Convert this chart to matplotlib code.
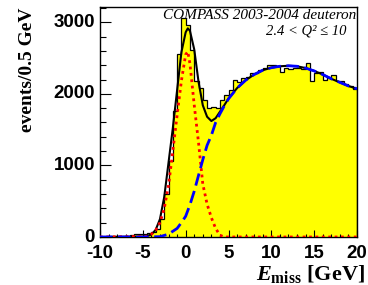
import numpy as np
import matplotlib
matplotlib.use("Agg")
import matplotlib.pyplot as plt
from matplotlib.ticker import MultipleLocator

plt.rcParams['mathtext.fontset'] = 'custom'
plt.rcParams['mathtext.it'] = 'Liberation Serif:italic:bold'
plt.rcParams['mathtext.rm'] = 'Liberation Serif:bold'
plt.rcParams['mathtext.bf'] = 'Liberation Serif:bold'

# histogram: events per 0.5 GeV bin, E_miss from -10 to 20 GeV
bin_low = -10.0
bin_width = 0.5
counts = [5, 5, 8, 12, 15, 18, 20, 25, 35, 38,
          40, 55, 75, 110, 250, 600, 1060, 1760, 2550, 3060,
          2960, 2610, 2180, 2080, 1920, 1800, 1810, 1800, 1920, 1990,
          2060, 2190, 2170, 2220, 2240, 2290, 2290, 2330, 2360, 2400,
          2400, 2390, 2310, 2360, 2350, 2360, 2360, 2350, 2430, 2180,
          2290, 2300, 2200, 2230, 2260, 2180, 2180, 2140, 2110, 2070]

# total fit (black solid)
total_e = [-10, -5, -4.5, -4, -3.5, -3, -2.5, -2, -1.5, -1, -0.5, 0, 0.25, 0.5, 1,
           1.5, 2, 2.5, 3, 3.5, 4, 4.5, 5, 6, 7, 8, 9, 10, 11, 12, 13, 14, 15,
           16, 17, 18, 19, 20]
total_v = [0, 5, 15, 35, 100, 250, 560, 1040, 1520, 2050, 2580, 2860, 2915, 2880, 2620,
           2170, 1840, 1680, 1620, 1660, 1750, 1840, 1935, 2080, 2190, 2270, 2330, 2365,
           2385, 2392, 2385, 2360, 2320, 2270, 2210, 2160, 2110, 2070]

# signal peak (red dotted)
peak_e = [-10, -4.5, -4, -3.5, -3, -2.5, -2, -1.5, -1, -0.5, 0, 0.25, 0.5, 1,
          1.5, 2, 2.5, 3, 3.5, 4, 4.5, 20]
peak_v = [0, 10, 40, 95, 200, 400, 720, 1200, 1700, 2180, 2550, 2590, 2420, 1843,
          1320, 740, 460, 270, 120, 25, 0, 0]

# background (blue dashed)
bkg_e = [-10, -5, -4, -3, -2, -1, -0.5, 0, 0.5, 1, 1.5, 2, 2.5, 3, 3.5, 4, 4.5, 5,
         6, 7, 8, 9, 10, 11, 12, 13, 14, 15, 16, 17, 18, 19, 20]
bkg_v = [0, 0, 2, 5, 40, 120, 200, 290, 450, 640, 860, 1080, 1280, 1420, 1600, 1720,
         1830, 1930, 2080, 2190, 2270, 2330, 2365, 2385, 2392, 2385, 2360, 2320, 2270,
         2210, 2160, 2110, 2070]

x_ticks = [-10, -5, 0, 5, 10, 15, 20]
y_ticks = [0, 1000, 2000, 3000]

fig = plt.figure(figsize=(3.68, 2.85), dpi=100)
ax = fig.add_axes([100/368, 1-237/285, 257/368, 230/285])

edges = bin_low + bin_width * np.arange(len(counts) + 1)
ax.stairs(counts, edges, fill=True, color='#ffff00', zorder=1)
ax.stairs(counts, edges, color='black', linewidth=0.9, zorder=2)

ax.plot(total_e, total_v, color='black', linewidth=1.5, zorder=3)
ax.plot(peak_e, peak_v, color='#ff0000', linewidth=2.0, linestyle=(0, (1, 1.3)), zorder=4)
ax.plot(bkg_e, bkg_v, color='#0000ff', linewidth=2.0, linestyle=(0, (4.5, 2)), zorder=5)

ax.set_xlim(-10, 20)
ax.set_ylim(0, 3213)
ax.set_xticks(x_ticks)
ax.set_xticklabels([str(t) for t in x_ticks])
ax.set_yticks(y_ticks)
ax.set_yticklabels([str(t) for t in y_ticks])
ax.xaxis.set_minor_locator(MultipleLocator(1))
ax.yaxis.set_minor_locator(MultipleLocator(200))

ax.tick_params(which='both', direction='in', top=False, right=False, width=0.8)
ax.tick_params(axis='y', which='major', length=8, pad=3.6)
ax.tick_params(axis='y', which='minor', length=4.3)
ax.tick_params(axis='x', which='major', length=5, pad=6.0)
ax.tick_params(axis='x', which='minor', length=2.5)
for lab in ax.get_xticklabels() + ax.get_yticklabels():
    lab.set_fontfamily('Liberation Sans')
    lab.set_fontweight('bold')
    lab.set_fontsize(13.5)
for lab in ax.get_yticklabels():
    lab.set_verticalalignment('center')
for sp in ax.spines.values():
    sp.set_linewidth(1.0)

ax.set_ylabel('events/0.5 GeV', loc='top', fontfamily='Liberation Serif',
              fontweight='bold', fontsize=14)
ax.yaxis.set_label_coords(-0.25, 1.0)
ax.set_xlabel(r'$E_{\mathrm{miss}}$ [GeV]', loc='right', fontfamily='Liberation Serif',
              fontweight='bold', fontsize=16)
ax.xaxis.set_label_coords(1.031, -0.113)

ax.text(0.997, 0.993, 'COMPASS 2003-2004 deuteron', transform=ax.transAxes,
        ha='right', va='top', fontfamily='Liberation Serif', fontstyle='italic',
        fontsize=11, zorder=6)
ax.text(0.961, 0.922, '2.4 < Q² ≤ 10', transform=ax.transAxes,
        ha='right', va='top', fontfamily=['Liberation Serif', 'DejaVu Serif'],
        fontstyle='italic', fontsize=10.5, zorder=6)

fig.savefig('out.png', dpi=100)
